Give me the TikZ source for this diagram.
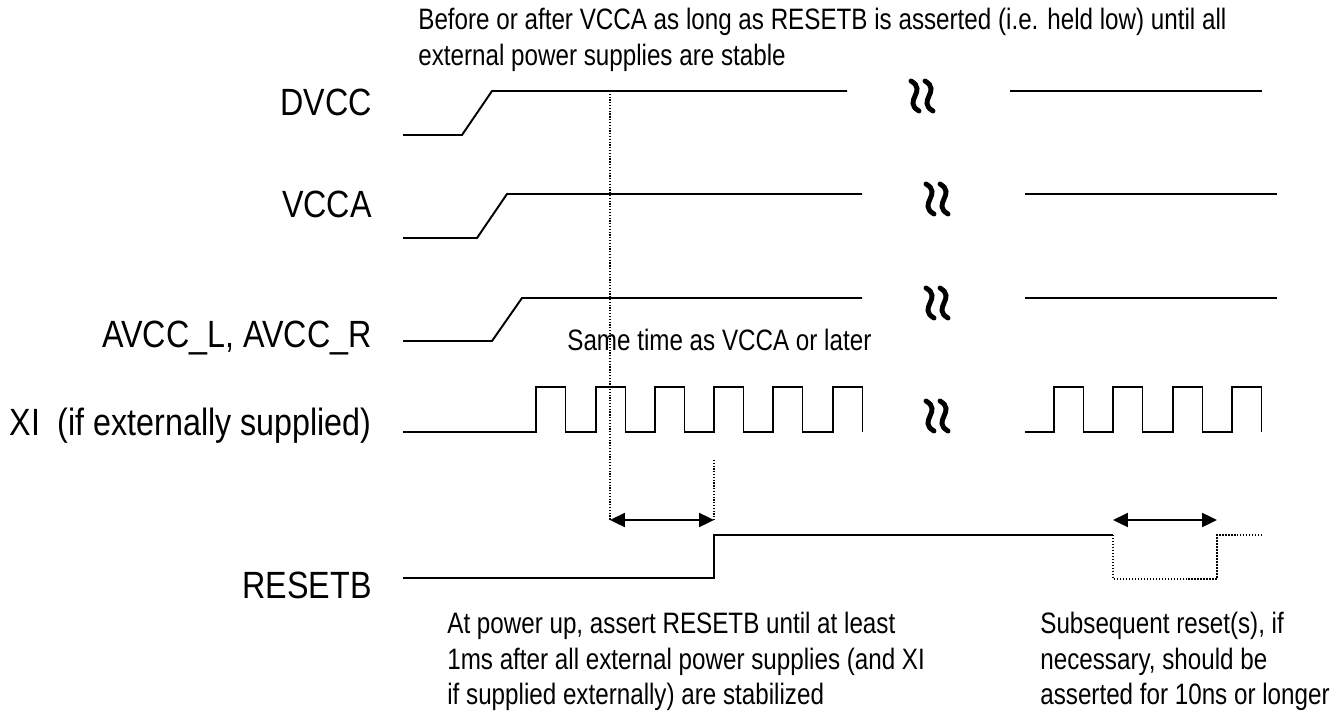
\documentclass[tikz,border=0pt]{standalone}
\usepackage{fontspec}
\setmainfont{Liberation Sans}
\newfontfamily\narrowsans[FakeStretch=0.85]{Liberation Sans}
\newfontfamily\notesans[FakeStretch=0.82]{Liberation Sans}
\usetikzlibrary{arrows.meta, calc}
\definecolor{ink}{HTML}{000000}
\tikzset{
  siglabel/.style={font=\fontsize{21.6}{24}\narrowsans, text=ink, inner sep=0pt, anchor=base east},
  note/.style={font=\fontsize{16.8}{20.2}\notesans, text=ink, inner sep=0pt, align=left},
  sig/.style={draw=ink, line width=1.1pt, line join=miter},
  sigdot/.style={draw=ink, line width=0.9pt, dash pattern=on 0.8pt off 0.9pt},
  guide/.style={draw=ink, line width=0.7pt, dash pattern=on 0.7pt off 0.9pt},
  span/.style={{Triangle[length=8.5pt, width=8pt]}-{Triangle[length=8.5pt, width=8pt]}, draw=ink, line width=1.1pt},
  brk/.pic={
    \foreach \dx in {-7,7}
      \draw[ink, line width=2.8pt, line cap=round]
        (\dx-4,-15) .. controls (\dx+13,-5) and (\dx-13,5) .. (\dx+4,15);
  },
}

\begin{document}
\begin{tikzpicture}[x=0.02cm, y=-0.02cm]
\useasboundingbox (0,0) rectangle (1344,713);

% --- signal names ---
\node[siglabel] (dvcc)   at (372,115) {DVCC};
\node[siglabel] (vcca)   at (372,217) {VCCA};
\node[siglabel] (avcc)   at (372,347) {AVCC\_L, AVCC\_R};
\node[siglabel] (xi)     at (372,435) {XI\ \ (if externally supplied)};
\node[siglabel] (resetb) at (372,598) {RESETB};

% --- supplies ---
\draw[sig] (403,135) -- (462,135) -- (492,91) -- (847,91);
\draw[sig] (1010,91) -- (1262,91);
\draw[sig] (403,238) -- (477,238) -- (507,194) -- (862,194);
\draw[sig] (1025,194) -- (1277,194);
\draw[sig] (403,341) -- (492,341) -- (522,298) -- (862,298);
\draw[sig] (1025,298) -- (1277,298);

% --- XI clock ---
\draw[sig] (403,432) \foreach \r in {536,596,655,714,773,833}
  { -- (\r,432) -- (\r,387) -- ++(29.5,0) -- ++(0,45) };
\draw[sig] (1025,432) \foreach \r in {1054,1113,1173,1232}
  { -- (\r,432) -- (\r,387) -- ++(29.5,0) -- ++(0,45) };

% --- time breaks ---
\pic at (922,96)  {brk};
\pic at (937,199) {brk};
\pic at (937,303) {brk};
\pic at (937,416) {brk};

% --- RESETB ---
\draw[sig] (403,578) -- (714,578) -- (714,535) -- (1113,535);
\draw[sigdot] (1113,535) -- (1113,579) -- (1217,579) -- (1217,535) -- (1262,535);

% --- timing marks ---
\coordinate (pgood)  at (610,520);
\coordinate (rstrel) at (714,520);
\coordinate (rstlo)  at (1113,520);
\coordinate (rsthi)  at (1217,520);
\draw[guide] (610,91) -- (pgood);
\draw[guide] (714,460) -- (rstrel);
\draw[span] (pgood) -- (rstrel);
\draw[span] (rstlo) -- (rsthi);

% --- notes ---
\node[note, anchor=north west] (notepre) at (418,8)
  {Before or after VCCA as long as RESETB is asserted (i.e. held low) until all\\
   external power supplies are stable};
\node[note, anchor=base west] (notesame) at (567,350) {Same time as VCCA or later};
\node[note, anchor=north west] (notepor) at (447,612)
  {At power up, assert RESETB until at least\\
   1ms after all external power supplies (and XI\\
   if supplied externally) are stabilized};
\node[note, anchor=north west] (notesub) at (1040,612)
  {Subsequent reset(s), if\\
   necessary, should be\\
   asserted for 10ns or longer};

\end{tikzpicture}
\end{document}
